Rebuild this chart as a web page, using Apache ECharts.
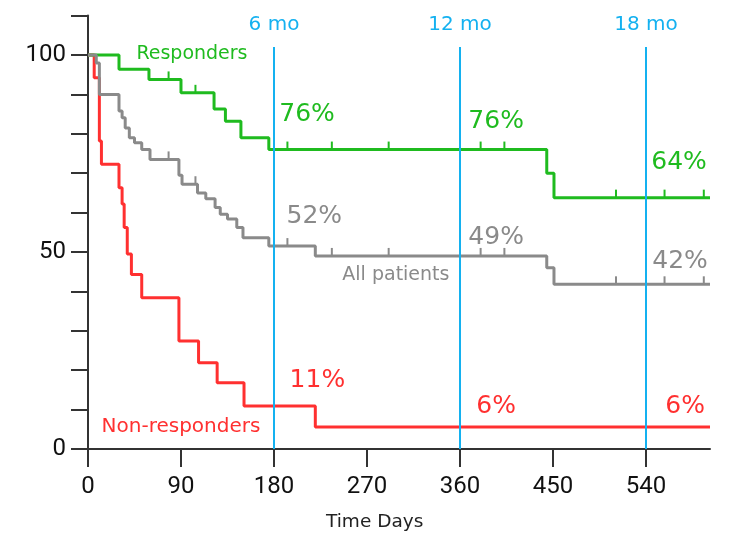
<!DOCTYPE html>
<html>
<head>
<meta charset="utf-8">
<script src="https://cdn.jsdelivr.net/npm/echarts@6/dist/echarts.min.js"></script>
<style>
html, body { margin: 0; padding: 0; background: #fff; }
#chart { width: 733px; height: 533px; }
</style>
</head>
<body>
<div id="chart"></div>
<script>
// 有效组（天数 / 生存率%）
const respDays = [0, 30, 59, 90, 122, 133, 148, 175, 444, 451, 602];
const respVals = [100, 96.4, 93.8, 90.4, 86.3, 83.2, 79, 76, 70, 63.8, 63.8];
const respCensor = [78, 104, 193, 236, 291, 380, 403, 511, 558, 596];

// 全部患者
const allDays = [0, 8, 11, 30, 33, 36, 40, 45, 52, 60, 88, 91, 106, 114, 123, 128, 135, 144, 150, 175, 220, 444, 451, 602];
const allVals = [100, 98, 90, 85.8, 84.1, 81.5, 79, 77.7, 76, 73.5, 69.5, 67.2, 65, 63.5, 61.3, 59.6, 58.4, 56.2, 53.6, 51.5, 49, 46, 41.8, 41.8];
const allCensor = [78, 104, 193, 236, 291, 380, 403, 511, 558, 596];

// 无效组
const nonDays = [0, 6, 11, 13, 30, 33, 35, 38, 42, 52, 88, 107, 125, 151, 220, 602];
const nonVals = [100, 94.2, 78.2, 72.3, 66.3, 62.2, 56.2, 49.5, 44.3, 38.4, 27.4, 21.9, 16.8, 10.9, 5.6, 5.6];

// 月份参考线
const monthDays = [180, 360, 540];
const monthLabels = ['6 mo', '12 mo', '18 mo'];

// 坐标轴刻度
const xTicks = [0, 90, 180, 270, 360, 450, 540];
const yTicks = [0, 50, 100];

// 文字标注 [文字, 天, 值]
const respNotes = [['76%', 212, 85], ['76%', 395, 83], ['64%', 572, 72.8]];
const allNotes = [['52%', 219, 58.9], ['49%', 395, 53.8], ['42%', 573, 47.5]];
const nonNotes = [['11%', 222, 17.5], ['6%', 395, 10.7], ['6%', 578, 10.7]];
const nameNotes = [
    ['Responders', 100.6, 100.3, 'green'],
    ['All patients', 298, 44.2, 'gray'],
    ['Non-responders', 90, 5.6, 'red']
];

const GREEN = '#1fbb1f';
const GRAY = '#8a8a8a';
const RED = '#ff3030';
const BLUE = '#14b1f0';
const AXIS = '#333333';
const FONT = "'DejaVu Sans', sans-serif";
const TICK_FONT = "Roboto, sans-serif";
const COLORS = { green: GREEN, gray: GRAY, red: RED };

// 取某一时刻的生存率
function valueAt(days, vals, t) {
    let v = vals[0];
    for (let i = 0; i < days.length; i++) {
        if (days[i] <= t) v = vals[i];
    }
    return v;
}

function stepSeries(name, days, vals, color, z) {
    return {
        name: name,
        type: 'line',
        step: 'end',
        symbol: 'none',
        z: z,
        data: days.map((d, i) => [d, vals[i]]),
        lineStyle: { color: color, width: 3 }
    };
}

function censorSeries(days, vals, censor, color, z) {
    return {
        type: 'scatter',
        symbol: 'rect',
        symbolSize: [2, 8],
        symbolOffset: [0, -4],
        z: z,
        silent: true,
        itemStyle: { color: color, opacity: 1 },
        data: censor.map(t => [t, valueAt(days, vals, t)])
    };
}

function textSeries(notes, color, size) {
    return {
        type: 'scatter',
        symbolSize: 1,
        silent: true,
        z: 5,
        itemStyle: { color: 'rgba(0,0,0,0)', opacity: 1 },
        label: {
            show: true,
            position: 'inside',
            formatter: p => p.data.text,
            color: color,
            opacity: 1,
            fontSize: size,
            fontFamily: FONT
        },
        data: notes.map(n => ({ value: [n[1], n[2]], text: n[0] }))
    };
}

const chart = echarts.init(document.getElementById('chart'));

const option = {
    animation: false,
    grid: { left: 88, right: 23, top: 15.6, bottom: 84 },
    xAxis: {
        type: 'value',
        min: 0,
        max: 602,
        interval: 90,
        splitLine: { show: false },
        axisLine: { lineStyle: { color: AXIS, width: 2 } },
        axisTick: { customValues: xTicks, length: 18, lineStyle: { color: AXIS, width: 2 } },
        axisLabel: { customValues: xTicks, margin: 26, color: '#111', fontSize: 24, fontFamily: TICK_FONT }
    },
    yAxis: {
        type: 'value',
        min: 0,
        max: 110,
        interval: 10,
        splitLine: { show: false },
        axisLine: { show: true, lineStyle: { color: AXIS, width: 2 } },
        axisTick: { show: true, length: 17, lineStyle: { color: AXIS, width: 2 } },
        axisLabel: { customValues: yTicks, margin: 22, color: '#111', fontSize: 24, fontFamily: TICK_FONT }
    },
    graphic: [{
        type: 'text',
        left: 326,
        top: 513,
        style: { text: 'Time Days', fill: '#222', fontSize: 18.5, fontFamily: FONT }
    }],
    series: [
        stepSeries('Non-responders', nonDays, nonVals, RED, 2),
        stepSeries('Responders', respDays, respVals, GREEN, 3),
        stepSeries('All patients', allDays, allVals, GRAY, 4),
        censorSeries(respDays, respVals, respCensor, GREEN, 3),
        censorSeries(allDays, allVals, allCensor, GRAY, 4),
        {
            type: 'line',
            data: [],
            silent: true,
            markLine: {
                symbol: 'none',
                silent: true,
                lineStyle: { color: BLUE, width: 2, type: 'solid' },
                label: {
                    show: true,
                    position: 'end',
                    distance: 12,
                    color: BLUE,
                    fontSize: 20,
                    fontFamily: FONT,
                    formatter: p => p.data.text
                },
                data: monthDays.map((d, i) => [
                    { coord: [d, 0], text: monthLabels[i] },
                    { coord: [d, 102] }
                ])
            }
        },
        textSeries(respNotes, GREEN, 25),
        textSeries(allNotes, GRAY, 25),
        textSeries(nonNotes, RED, 25),
        ...nameNotes.map(n => textSeries([n], COLORS[n[3]], n[0] === 'Non-responders' ? 20 : 19))
    ]
};

chart.setOption(option);
</script>
</body>
</html>
